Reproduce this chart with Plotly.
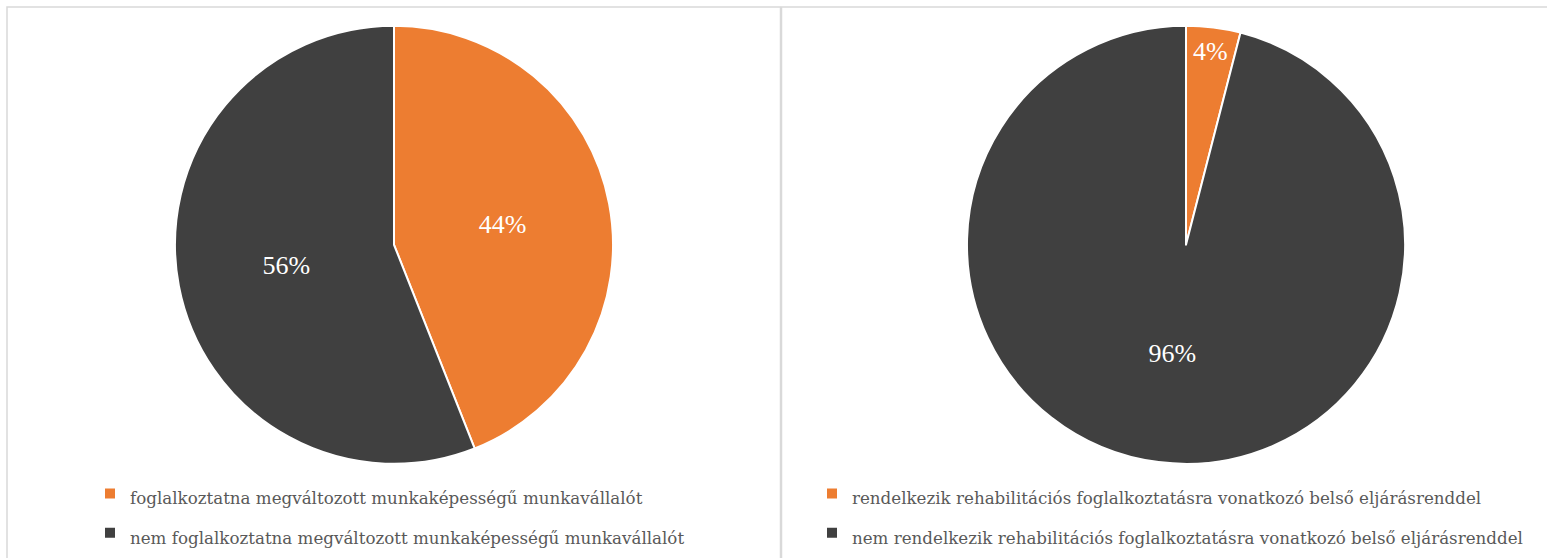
import plotly.graph_objects as go

W, H = 1547, 558

left_labels = ["foglalkoztatna megváltozott munkaképességű munkavállalót",
               "nem foglalkoztatna megváltozott munkaképességű munkavállalót"]
left_values = [44, 56]

right_labels = ["rendelkezik rehabilitációs foglalkoztatásra vonatkozó belső eljárásrenddel",
                "nem rendelkezik rehabilitációs foglalkoztatásra vonatkozó belső eljárásrenddel"]
right_values = [4, 96]

colors = ["#ED7D31", "#404040"]
FONT = "Liberation Serif"
LEG_FONT = "DejaVu Serif"


def px_x(p):
    return p / W


def px_y(p):
    return 1 - p / H


def span(t):
    return f"<span style='font-size:16.7px'>{t}</span>"


pie_text = dict(family=FONT, size=26, color="white")

fig = go.Figure()
fig.add_trace(go.Pie(
    labels=[span(l) for l in left_labels], values=left_values,
    marker=dict(colors=colors, line=dict(color="white", width=2)),
    sort=False, direction="clockwise", rotation=0,
    textinfo="percent", texttemplate="%{percent:.0%}",
    textposition="inside", insidetextorientation="horizontal",
    textfont=pie_text, insidetextfont=pie_text,
    domain=dict(x=[px_x(173), px_x(615)], y=[px_y(468), px_y(26)]),
    legend="legend", hoverinfo="label+percent",
))
fig.add_trace(go.Pie(
    labels=[span(l) for l in right_labels], values=right_values,
    marker=dict(colors=colors, line=dict(color="white", width=2)),
    sort=False, direction="clockwise", rotation=0,
    textinfo="percent", texttemplate="%{percent:.0%}",
    textposition="inside", insidetextorientation="horizontal",
    textfont=pie_text, insidetextfont=pie_text,
    domain=dict(x=[px_x(965), px_x(1407)], y=[px_y(468), px_y(26)]),
    legend="legend2", hoverinfo="label+percent",
))

legend_common = dict(font=dict(family=LEG_FONT, size=28, color="#595959"),
                     bgcolor="rgba(0,0,0,0)", orientation="v",
                     xanchor="left", yanchor="top", traceorder="normal")

fig.update_layout(
    width=W, height=H,
    margin=dict(l=0, r=0, t=0, b=0),
    paper_bgcolor="white", plot_bgcolor="white",
    font=dict(family=FONT),
    legend=dict(x=px_x(90), y=px_y(473), **legend_common),
    legend2=dict(x=px_x(812), y=px_y(473), **legend_common),
    shapes=[
        dict(type="rect", xref="paper", yref="paper",
             x0=px_x(7), x1=px_x(780.5), y0=px_y(570), y1=px_y(7),
             line=dict(color="#d9d9d9", width=1.5), fillcolor="rgba(0,0,0,0)"),
        dict(type="rect", xref="paper", yref="paper",
             x0=px_x(781.5), x1=px_x(1560), y0=px_y(570), y1=px_y(7),
             line=dict(color="#d9d9d9", width=1.5), fillcolor="rgba(0,0,0,0)"),
    ],
)

fig.write_html(
    "out.html",
    config={"displayModeBar": False},
    post_script="document.body.style.margin='0';document.body.style.overflow='hidden';",
)
